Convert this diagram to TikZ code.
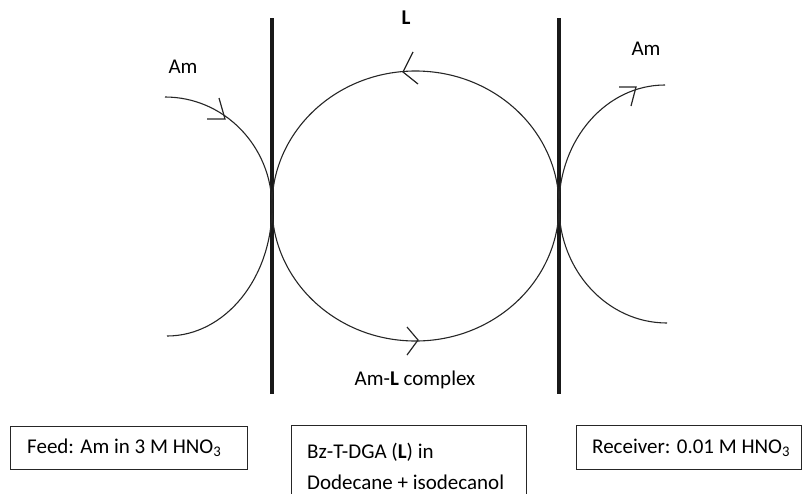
\documentclass[tikz,border=0pt]{standalone}
\usepackage{fontspec}
\setmainfont{Carlito}
\begin{document}
\begin{tikzpicture}[x=1pt,y=-1pt,
  thin line/.style={line width=1.1pt, draw=black!85},
  membrane/.style={line width=4pt, draw=black!90},
  chev/.style={line width=1.2pt, draw=black!85, line join=miter},
  lbl/.style={font=\fontsize{21}{25}\selectfont, inner sep=0pt},
  box/.style={line width=1pt, draw=black!85}]
\useasboundingbox (0,0) rectangle (802,493);
% membranes
\coordinate (m1t) at (272,18); \coordinate (m1b) at (272,394);
\coordinate (m2t) at (559,18); \coordinate (m2b) at (559,394);
\draw[membrane] (m1t) -- (m1b);
\draw[membrane] (m2t) -- (m2b);
% big carrier loop
\coordinate (cc) at (415.5,206);
\draw[thin line] (cc) ellipse [x radius=143.5, y radius=135];
% left feed arc
\draw[thin line] (165,97) arc [start angle=-90, end angle=0, x radius=107, y radius=110]
                  arc [start angle=0, end angle=90, x radius=105, y radius=129];
% right receiver arc
\draw[thin line] (665,85) arc [start angle=-90, end angle=-180, x radius=106, y radius=121]
                  arc [start angle=-180, end angle=-270, x radius=108, y radius=117];
% chevrons
\draw[chev] (207,119) -- (225,119) -- (219,98);
\draw[chev] (413,52) -- (403,72) -- (418,84);
\draw[chev] (407,327) -- (418,340) -- (407,355);
\draw[chev] (619,87) -- (636,87) -- (631,106);
% labels
\node[lbl] (amL) at (183,67) {Am};
\node[lbl] (amR) at (646,49) {Am};
\node[lbl] (L) at (406,18) {\textbf{L}};
\node[lbl] (cx) at (415,380) {Am-\textbf{L} complex};
% boxes
\draw[box] (10,426) rectangle (247,469);
\node[lbl, anchor=west] (feed) at (27,447.5) {Feed: Am in 3 M HNO\textsubscript{3}};
\draw[box] (291,494) -- (291,425.5) -- (526,425.5) -- (526,494);
\node[lbl, anchor=west] (org1) at (307,452) {Bz-T-DGA (\textbf{L}) in};
\node[lbl, anchor=west] (org2) at (307,482) {Dodecane + isodecanol};
\draw[box] (576,425.5) rectangle (801.5,469);
\node[lbl, anchor=west] (rec) at (592,447.5) {Receiver: 0.01 M HNO\textsubscript{3}};
\end{tikzpicture}
\end{document}
